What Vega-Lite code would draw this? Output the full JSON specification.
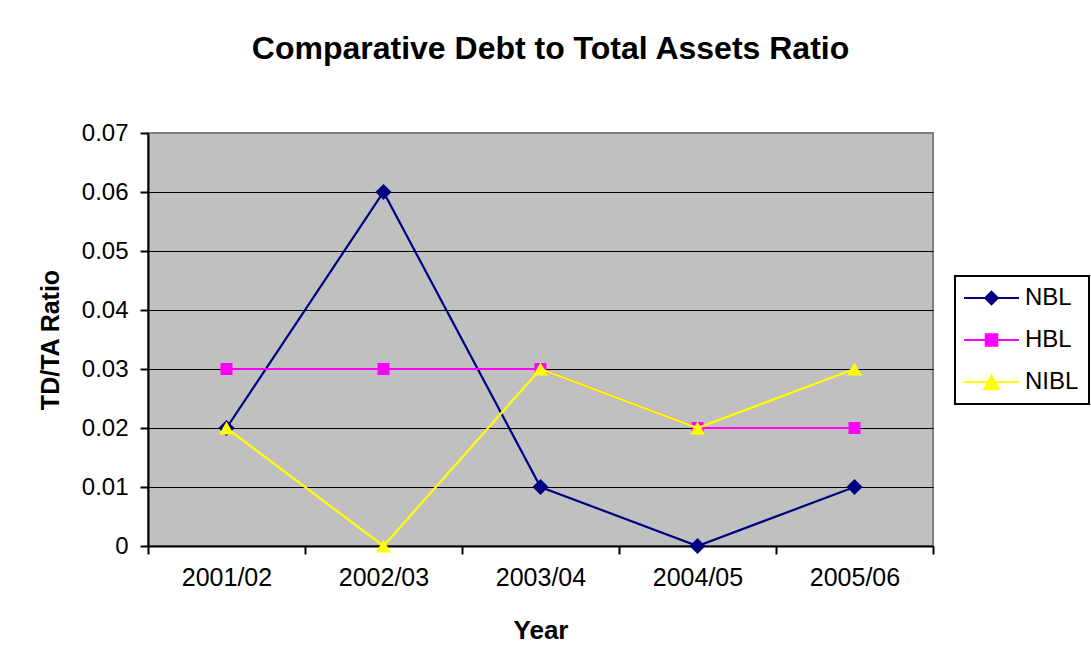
{
  "$schema": "https://vega.github.io/schema/vega-lite/v6.json",
  "width": 785,
  "height": 413,
  "autosize": {"type": "none"},
  "padding": {"left": 148, "top": 133, "right": 158, "bottom": 124},
  "background": "white",
  "title": {
    "text": "Comparative Debt to Total Assets Ratio",
    "fontSize": 32,
    "font": "Liberation Sans",
    "fontWeight": "bold",
    "color": "black",
    "anchor": "middle",
    "frame": "group",
    "dx": 10,
    "offset": 30,
    "baseline": "alphabetic"
  },
  "data": {
    "values": [
      {"Year": "2001/02", "Series": "NBL", "Ratio": 0.02},
      {"Year": "2002/03", "Series": "NBL", "Ratio": 0.06},
      {"Year": "2003/04", "Series": "NBL", "Ratio": 0.01},
      {"Year": "2004/05", "Series": "NBL", "Ratio": 0.0},
      {"Year": "2005/06", "Series": "NBL", "Ratio": 0.01},
      {"Year": "2001/02", "Series": "HBL", "Ratio": 0.03},
      {"Year": "2002/03", "Series": "HBL", "Ratio": 0.03},
      {"Year": "2003/04", "Series": "HBL", "Ratio": 0.03},
      {"Year": "2004/05", "Series": "HBL", "Ratio": 0.02},
      {"Year": "2005/06", "Series": "HBL", "Ratio": 0.02},
      {"Year": "2001/02", "Series": "NIBL", "Ratio": 0.02},
      {"Year": "2002/03", "Series": "NIBL", "Ratio": 0.0},
      {"Year": "2003/04", "Series": "NIBL", "Ratio": 0.03},
      {"Year": "2004/05", "Series": "NIBL", "Ratio": 0.02},
      {"Year": "2005/06", "Series": "NIBL", "Ratio": 0.03}
    ]
  },
  "encoding": {
    "x": {
      "field": "Year",
      "type": "nominal",
      "sort": ["2001/02", "2002/03", "2003/04", "2004/05", "2005/06"],
      "scale": {"type": "band", "paddingInner": 0, "paddingOuter": 0},
      "axis": {
        "title": "Year",
        "labelAngle": 0,
        "tickBand": "extent",
        "tickSize": 8,
        "tickWidth": 2,
        "tickColor": "black",
        "domainColor": "black",
        "domainWidth": 2,
        "labelPadding": 11,
        "titlePadding": 27,
        "labelFontSize": 25,
        "labelFont": "Liberation Sans",
        "labelColor": "black",
        "titleFontSize": 26,
        "titleFont": "Liberation Sans",
        "titleFontWeight": "bold",
        "titleColor": "black",
        "grid": false
      }
    },
    "y": {
      "field": "Ratio",
      "type": "quantitative",
      "scale": {"domain": [0, 0.07], "nice": false, "zero": true},
      "axis": {
        "title": "TD/TA Ratio",
        "values": [0, 0.01, 0.02, 0.03, 0.04, 0.05, 0.06, 0.07],
        "format": ".2~f",
        "tickSize": 8,
        "tickWidth": 2,
        "tickColor": "black",
        "domainColor": "black",
        "domainWidth": 2,
        "labelPadding": 12,
        "titlePadding": 18,
        "labelFontSize": 24,
        "labelFont": "Liberation Sans",
        "labelColor": "black",
        "titleFontSize": 25,
        "titleFont": "Liberation Sans",
        "titleFontWeight": "bold",
        "titleColor": "black",
        "grid": true,
        "gridWidth": 1.2,
        "gridColor": {"condition": {"test": "datum.value > 0.069", "value": "#808080"}, "value": "black"}
      }
    }
  },
  "layer": [
    {
      "transform": [{"filter": "datum.Series === 'NBL'"}],
      "mark": {"type": "line", "strokeWidth": 2.2, "color": "#000080"},
      "encoding": {"detail": {"field": "Series", "type": "nominal"}}
    },
    {
      "transform": [{"filter": "datum.Series === 'NBL'"}],
      "mark": {"type": "point", "filled": true, "shape": "diamond", "size": 260, "opacity": 1, "strokeWidth": 0, "color": "#000080"},
      "encoding": {"detail": {"field": "Series", "type": "nominal"}}
    },
    {
      "transform": [{"filter": "datum.Series === 'HBL'"}],
      "mark": {"type": "line", "strokeWidth": 2.2, "color": "#FF00FF"},
      "encoding": {"detail": {"field": "Series", "type": "nominal"}}
    },
    {
      "transform": [{"filter": "datum.Series === 'HBL'"}],
      "mark": {"type": "point", "filled": true, "shape": "square", "size": 144, "opacity": 1, "strokeWidth": 0, "color": "#FF00FF"},
      "encoding": {"detail": {"field": "Series", "type": "nominal"}}
    },
    {
      "transform": [{"filter": "datum.Series === 'NIBL'"}],
      "mark": {"type": "line", "strokeWidth": 2.2, "color": "#FFFF00"},
      "encoding": {"detail": {"field": "Series", "type": "nominal"}}
    },
    {
      "transform": [{"filter": "datum.Series === 'NIBL'"}],
      "mark": {"type": "point", "filled": true, "shape": "triangle-up", "size": 225, "opacity": 1, "strokeWidth": 0, "color": "#FFFF00"},
      "encoding": {"detail": {"field": "Series", "type": "nominal"}}
    },
    {
      "mark": {"type": "point", "filled": true, "opacity": 0},
      "encoding": {
        "color": {
          "field": "Series",
          "type": "nominal",
          "scale": {"domain": ["NBL", "HBL", "NIBL"], "range": ["#000080", "#FF00FF", "#FFFF00"]},
          "legend": {
            "orient": "none",
            "legendX": 807,
            "legendY": 143,
            "title": null,
            "labelFontSize": 24,
            "labelFont": "Liberation Sans",
            "labelColor": "black",
            "symbolSize": 121,
            "symbolStrokeWidth": 2,
            "symbolOpacity": 1,
            "rowPadding": 18,
            "padding": 10,
            "symbolOffset": 14.5,
            "labelOffset": 21.5,
            "strokeColor": "black",
            "fillColor": "white",
            "encode": {
              "symbols": {
                "update": {
                  "fill": {"scale": "color", "field": "value"},
                  "stroke": {"scale": "color", "field": "value"},
                  "strokeWidth": {"value": 2},
                  "opacity": {"value": 1}
                }
              }
            }
          }
        },
        "shape": {"field": "Series", "type": "nominal", "scale": {"domain": ["NBL", "HBL", "NIBL"], "range": ["M-5,0L5,0M0,-1.15L1.15,0L0,1.15L-1.15,0Z", "M-5,0L5,0M-1.05,-1.05L1.05,-1.05L1.05,1.05L-1.05,1.05Z", "M-5,0L5,0M0,-1.2L1.35,1.3L-1.35,1.3Z"]}}
      }
    }
  ],
  "config": {
    "font": "Liberation Sans",
    "view": {"stroke": "#808080", "strokeWidth": 2, "fill": "#C0C0C0"},
    "legend": {"strokeWidth": 2, "strokeColor": "black", "fillColor": "white"}
  }
}
